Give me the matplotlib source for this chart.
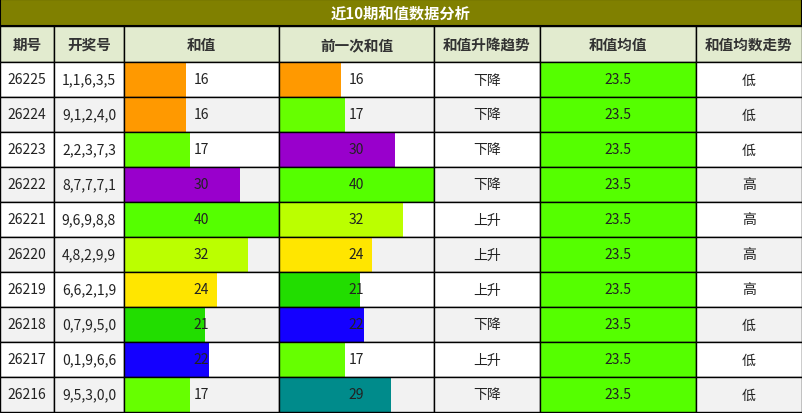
import matplotlib
matplotlib.use('Agg')
import matplotlib.pyplot as plt
from matplotlib.patches import Rectangle

plt.rcParams['font.family'] = ['Noto Sans CJK SC', 'DejaVu Sans']

title = '近10期和值数据分析'
headers = ['期号', '开奖号', '和值', '前一次和值', '和值升降趋势', '和值均值', '和值均数走势']
periods = ['26225', '26224', '26223', '26222', '26221', '26220', '26219', '26218', '26217', '26216']
draws = ['1,1,6,3,5', '9,1,2,4,0', '2,2,3,7,3', '8,7,7,7,1', '9,6,9,8,8',
         '4,8,2,9,9', '6,6,2,1,9', '0,7,9,5,0', '0,1,9,6,6', '9,5,3,0,0']
sums = [16, 16, 17, 30, 40, 32, 24, 21, 22, 17]
prev_sums = [16, 17, 30, 40, 32, 24, 21, 22, 17, 29]
trend = ['下降', '下降', '下降', '下降', '上升', '上升', '上升', '下降', '上升', '下降']
mean = [23.5] * 10
mean_trend = ['低', '低', '低', '高', '高', '高', '高', '低', '低', '低']

value_colors = {16: '#ff9900', 17: '#66ff00', 30: '#9900cc', 40: '#55ff00', 32: '#bbff00',
                24: '#ffe600', 21: '#22dd00', 22: '#1400ff', 29: '#008b8b'}
max_val = 40

col_x = [0, 54, 124, 279, 434, 540, 696, 802]
title_h, head_top, head_bot, row_h = 27, 27, 63, 35

fig = plt.figure(figsize=(8.02, 4.14), dpi=100)
ax = fig.add_axes([0, 0, 1, 1])
ax.set_xlim(0, 802)
ax.set_ylim(414, 0)
ax.axis('off')

ax.add_patch(Rectangle((0, 0), 802, title_h, facecolor='#808000', edgecolor='black', lw=1.5))
ax.text(401, title_h / 2, title, color='white', fontsize=11, fontweight='bold', ha='center', va='center')

for i, h in enumerate(headers):
    x0, x1 = col_x[i], col_x[i + 1]
    ax.add_patch(Rectangle((x0, head_top), x1 - x0, head_bot - head_top, facecolor='#e2ebcf', edgecolor='black', lw=1))
    ax.text((x0 + x1) / 2, (head_top + head_bot) / 2, h, color='#333333', fontsize=10.5,
            fontweight='bold', ha='center', va='center')

for r in range(10):
    y0 = head_bot + r * row_h
    bg = 'white' if r % 2 == 0 else '#f2f2f2'
    cells = [periods[r], draws[r], sums[r], prev_sums[r], trend[r], mean[r], mean_trend[r]]
    for c, val in enumerate(cells):
        x0, x1 = col_x[c], col_x[c + 1]
        w = x1 - x0
        ax.add_patch(Rectangle((x0, y0), w, row_h, facecolor=bg, edgecolor='none'))
        if c in (2, 3):
            ax.add_patch(Rectangle((x0, y0), w * val / max_val, row_h, facecolor=value_colors[val], edgecolor='none'))
        if c == 5:
            ax.add_patch(Rectangle((x0, y0), w, row_h, facecolor='#55ff00', edgecolor='none'))
        ax.add_patch(Rectangle((x0, y0), w, row_h, facecolor='none', edgecolor='black', lw=1))
        ax.text((x0 + x1) / 2, y0 + row_h / 2, str(val), color='#222222', fontsize=10,
                ha='center', va='center')

plt.savefig('out.png', dpi=100)
